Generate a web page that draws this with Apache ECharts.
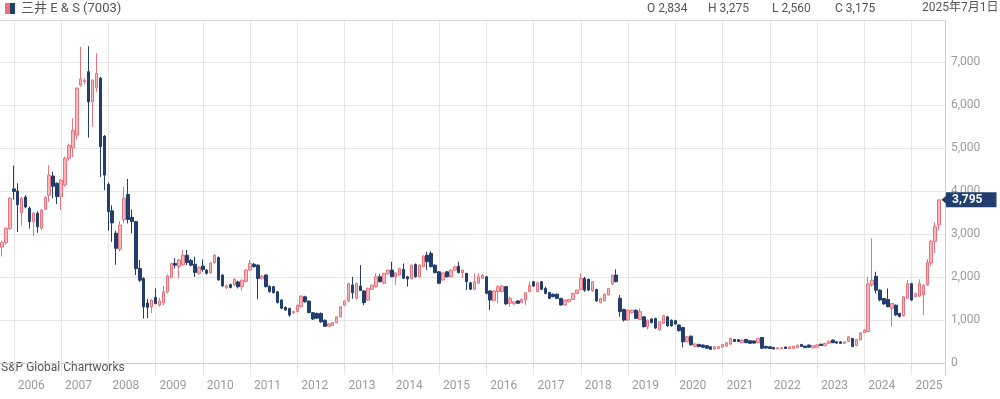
<!DOCTYPE html>
<html>
<head>
<meta charset="utf-8">
<title>三井E&amp;S (7003)</title>
<script src="https://cdn.jsdelivr.net/npm/echarts@6/dist/echarts.min.js"></script>
<style>
html, body { margin: 0; padding: 0; background: #fff; }
#main { width: 1000px; height: 399px; }
</style>
</head>
<body>
<div id="main"></div>
<script>
// 月足 2005年10月 〜 2025年8月 (最後のカテゴリ 2025年9月 は空き)
var firstYear = 2005, firstMonth = 10, monthCount = 240;

var openPrice = [
    2700, 2800, 3130,
    4050, 4000, 3490, 3860, 3600, 3290, 3480, 3140, 3580, 3900, 4350, 4180,
    3870, 4140, 4760, 5000, 5300, 6460, 6540, 6770, 6070, 6390, 6620, 5270,
    4150, 3540, 3020, 2650, 3340, 3920, 3390, 3290, 2200, 1970, 1400, 1310,
    1530, 1350, 1400, 1660, 2000, 2320, 2250, 2290, 2510, 2390, 2300, 2090,
    2260, 2165, 2100, 2335, 2460, 2050, 1760, 1830, 1820, 1890, 1780, 1900,
    2165, 2300, 2280, 1975, 2050, 1790, 1780, 1660, 1470, 1300, 1275, 1175,
    1200, 1320, 1545, 1445, 1175, 1160, 1160, 1000, 860, 880, 945, 1080,
    1350, 1450, 1820, 1510, 1795, 1680, 1470, 1720, 1780, 2010, 1860, 2075,
    2165, 2010, 2050, 2180, 2010, 1970, 2295, 2010, 2245, 2510, 2550, 2280,
    2125, 1935, 2125, 2010, 2165, 2255, 2105, 2090, 1870, 1720, 1860, 1975,
    2010, 1680, 1455, 1665, 1665, 1780, 1395, 1380, 1450, 1410, 1470, 1665,
    1895, 1665, 1895, 1740, 1645, 1605, 1605, 1510, 1355, 1430, 1485, 1625,
    1720, 1970, 1950, 1690, 1715, 1410, 1455, 1590, 1840, 2050, 1510, 1250,
    1005, 1175, 1235, 1020, 1080, 850, 1030, 1040, 775, 930, 1080, 1000,
    990, 890, 830, 505, 630, 390, 440, 425, 410, 385, 330, 345,
    375, 400, 445, 555, 550, 480, 555, 525, 520, 480, 600, 395,
    385, 370, 335, 340, 380, 340, 345, 365, 440, 400, 425, 360,
    375, 445, 405, 465, 540, 500, 500, 465, 505, 580, 410, 545,
    710, 740, 1820, 2020, 1700, 1505, 1485, 1280, 1350, 1160, 1100, 1510,
    1850, 1550, 1560, 1590, 1820, 2330, 2834, 3210
];
var highPrice = [
    2850, 3160, 3860,
    4590, 4180, 3860, 3900, 3640, 3500, 3530, 3580, 3880, 4600, 4450, 4200,
    4280, 4800, 5100, 5690, 6400, 7350, 6620, 7360, 6600, 7200, 6650, 5300,
    4200, 3670, 3080, 3300, 4100, 4280, 3570, 3300, 2400, 2000, 1500, 1500,
    1740, 1520, 1800, 2060, 2340, 2440, 2420, 2630, 2630, 2420, 2475, 2250,
    2410, 2190, 2350, 2540, 2480, 2070, 1830, 1850, 1970, 1920, 1950, 2180,
    2400, 2330, 2300, 2050, 2070, 1810, 1800, 1680, 1490, 1320, 1290, 1220,
    1370, 1580, 1570, 1460, 1190, 1180, 1180, 1020, 935, 960, 1090, 1320,
    1470, 1870, 2010, 1870, 2280, 1700, 1760, 1830, 2090, 2070, 2100, 2180,
    2360, 2120, 2220, 2320, 2030, 2300, 2320, 2300, 2510, 2590, 2600, 2300,
    2140, 2110, 2140, 2180, 2260, 2360, 2180, 2100, 1890, 2090, 2090, 2080,
    2030, 1700, 1700, 1820, 1810, 1800, 1546, 1440, 1470, 1500, 1650, 1895,
    1910, 1895, 1910, 1780, 1660, 1625, 1620, 1520, 1480, 1495, 1635, 1710,
    2090, 2010, 1970, 1910, 1730, 1520, 1620, 1750, 2060, 2180, 1585, 1270,
    1250, 1250, 1250, 1275, 1100, 1020, 1045, 1060, 980, 1120, 1100, 1020,
    1010, 910, 850, 630, 650, 470, 455, 440, 420, 395, 395, 400,
    450, 490, 600, 570, 565, 550, 570, 535, 535, 590, 610, 410,
    395, 380, 370, 370, 390, 390, 405, 435, 450, 410, 435, 415,
    440, 455, 470, 525, 555, 515, 510, 510, 640, 590, 565, 720,
    790, 2010, 2900, 2126, 1720, 1520, 1740, 1400, 1370, 1175, 1560, 1933,
    1870, 1640, 1949, 1840, 2420, 2870, 3275, 3800
];
var lowPrice = [
    2480, 2750, 3100,
    3800, 3050, 3200, 3600, 3130, 2950, 3030, 3100, 3560, 3750, 3830, 3700,
    3560, 4100, 4700, 4790, 5200, 6420, 6480, 5240, 5490, 6300, 4330, 4020,
    3080, 2820, 2290, 2600, 3250, 3250, 3020, 2050, 1890, 1040, 1050, 1170,
    1370, 1320, 1350, 1620, 1970, 2200, 1970, 2260, 2280, 2250, 2010, 2060,
    2130, 2060, 2080, 2310, 1920, 1770, 1720, 1740, 1800, 1740, 1690, 1880,
    2150, 2220, 1490, 1950, 1760, 1640, 1620, 1390, 1260, 1220, 1080, 1150,
    1180, 1300, 1410, 1160, 1010, 1030, 940, 850, 845, 870, 930, 1070,
    1340, 1420, 1500, 1480, 1680, 1350, 1450, 1700, 1760, 1880, 1840, 2060,
    2000, 1820, 2030, 1960, 1780, 1950, 1990, 1990, 2230, 2165, 2230, 2090,
    1840, 1920, 1990, 2000, 2150, 2090, 1975, 1700, 1700, 1700, 1840, 1960,
    1600, 1240, 1440, 1400, 1650, 1360, 1315, 1360, 1380, 1400, 1355, 1650,
    1780, 1650, 1700, 1600, 1490, 1530, 1490, 1340, 1340, 1420, 1470, 1610,
    1700, 1660, 1690, 1660, 1430, 1390, 1440, 1575, 1820, 1880, 1085, 970,
    990, 1160, 1030, 1000, 835, 790, 930, 800, 760, 910, 850, 850,
    900, 740, 370, 480, 410, 380, 375, 360, 340, 315, 320, 335,
    365, 390, 440, 500, 495, 470, 470, 455, 460, 470, 340, 345,
    335, 325, 325, 330, 335, 335, 340, 360, 380, 355, 365, 350,
    365, 405, 400, 455, 470, 460, 455, 455, 495, 380, 400, 535,
    700, 720, 1780, 1624, 1440, 1360, 1300, 850, 1100, 1070, 1090, 1500,
    1450, 1530, 1540, 1120, 1800, 2260, 2560, 3090
];
var closePrice = [
    2800, 3130, 3830,
    3990, 3680, 3830, 3630, 3290, 3490, 3170, 3560, 3860, 4370, 4110, 3870,
    4250, 4760, 5060, 5410, 6390, 6600, 6560, 6070, 6570, 6730, 5030, 4370,
    3520, 3260, 2670, 3210, 3830, 3340, 3290, 2200, 1930, 1310, 1300, 1470,
    1390, 1450, 1660, 2030, 2320, 2280, 2400, 2510, 2340, 2280, 2110, 2230,
    2180, 2090, 2330, 2510, 1935, 1800, 1800, 1760, 1950, 1780, 1930, 2165,
    2320, 2245, 1970, 2025, 1780, 1665, 1640, 1410, 1280, 1240, 1120, 1205,
    1350, 1560, 1430, 1180, 1030, 1050, 965, 860, 920, 950, 1080, 1315,
    1450, 1850, 1640, 1856, 1690, 1410, 1740, 1815, 2010, 1895, 2090, 2165,
    2010, 2100, 2200, 1975, 1960, 2280, 2010, 2280, 2490, 2360, 2245, 2105,
    1860, 2100, 2010, 2165, 2240, 2105, 2165, 1895, 1720, 1895, 2010, 2045,
    1625, 1470, 1680, 1780, 1795, 1380, 1505, 1430, 1395, 1485, 1640, 1815,
    1795, 1870, 1720, 1625, 1510, 1550, 1510, 1355, 1470, 1485, 1625, 1700,
    1970, 1700, 1700, 1895, 1450, 1505, 1605, 1740, 2050, 1895, 1200, 1005,
    1235, 1235, 1045, 1200, 850, 1005, 945, 820, 965, 1105, 870, 870,
    915, 760, 500, 615, 430, 450, 390, 375, 350, 325, 385, 390,
    440, 480, 580, 510, 505, 540, 480, 465, 470, 580, 350, 355,
    345, 335, 360, 362, 345, 385, 400, 425, 390, 365, 375, 410,
    430, 415, 465, 515, 480, 470, 465, 500, 615, 390, 555, 710,
    770, 1850, 1930, 1700, 1470, 1380, 1315, 1390, 1125, 1085, 1545, 1850,
    1470, 1620, 1856, 1810, 2340, 2834, 3175, 3795
];
var yTicks = [0, 1000, 2000, 3000, 4000, 5000, 6000, 7000];

// ヘッダー (クロスヘア位置の四本値)
var headerTitle = '三井 E & S (7003)';
var headerOHLC = ['O 2,834', 'H 3,275', 'L 2,560', 'C 3,175'];
var headerDate = '2025年7月1日';
var sourceText = 'S&P Global Chartworks';

var upFill = '#f5b7bb', upLine = '#e9737d', downColor = '#213e6e';

var months = [];
for (var i = 0; i < monthCount; i++) {
    var t = firstMonth - 1 + i;
    var mm = t % 12 + 1;
    months.push((firstYear + Math.floor(t / 12)) + '-' + (mm < 10 ? '0' + mm : mm));
}
var candles = [];
for (var j = 0; j < openPrice.length; j++) {
    candles.push([openPrice[j], closePrice[j], lowPrice[j], highPrice[j]]);
}
var lastClose = closePrice[closePrice.length - 1];

function isJanuary(index, value) {
    return value.slice(5) === '01';
}
function fmt(v) {
    return Number(v).toLocaleString('en-US');
}

var myChart = echarts.init(document.getElementById('main'));
var font = 'Roboto, "Noto Sans CJK JP", sans-serif';
var ohlcX = [647, 708, 772, 835];
var graphics = [
    { type: 'rect', left: 5, top: 3, shape: { width: 5, height: 11 }, style: { fill: upLine } },
    { type: 'rect', left: 10, top: 3, shape: { width: 5, height: 11 }, style: { fill: downColor } },
    { type: 'text', left: 21, top: 2, style: { text: headerTitle, fill: '#555', font: '13px ' + font } },
    { type: 'text', left: 922, top: 2, style: { text: headerDate, fill: '#555', font: '12px ' + font } },
    { type: 'text', left: 1, top: 362, style: { text: sourceText, fill: '#555', font: '12px ' + font } }
];
headerOHLC.forEach(function (s, k) {
    graphics.push({ type: 'text', left: ohlcX[k], top: 3, style: { text: s, fill: '#555', font: '12px ' + font } });
});

var option = {
    animation: false,
    backgroundColor: '#fff',
    textStyle: { fontFamily: font },
    grid: { left: 0, right: 55, top: 20, bottom: 24 },
    xAxis: [{
        type: 'category',
        data: months,
        boundaryGap: true,
        axisLine: { lineStyle: { color: '#cfcfcf' } },
        axisTick: { show: true, interval: isJanuary, alignWithLabel: true, length: 5, lineStyle: { color: '#dadada' } },
        axisLabel: {
            interval: isJanuary,
            formatter: function (v) { return v.slice(0, 4); },
            color: '#9b9b9b', fontSize: 12, align: 'left', margin: 5, padding: [0, 0, 0, 4]
        },
        splitLine: { show: true, interval: isJanuary, alignWithLabel: true, lineStyle: { color: '#e6e6e6' } }
    }, {
        type: 'category',
        data: months,
        position: 'top',
        axisLine: { lineStyle: { color: '#d6d6d6' } },
        axisTick: { show: false },
        axisLabel: { show: false },
        splitLine: { show: false }
    }],
    yAxis: {
        type: 'value',
        position: 'right',
        min: -270,
        max: 7970,
        axisLine: { show: true, lineStyle: { color: '#cfcfcf' } },
        axisTick: { show: false, customValues: yTicks },
        axisLabel: { customValues: yTicks, formatter: fmt, color: '#9b9b9b', fontSize: 12, margin: 6 },
        splitLine: { show: true, lineStyle: { color: '#e6e6e6' } }
    },
    series: [{
        type: 'candlestick',
        data: candles,
        barWidth: 3,
        itemStyle: {
            color: upFill,
            color0: downColor,
            borderColor: upLine,
            borderColor0: downColor,
            borderWidth: 1
        },
        markLine: {
            silent: true,
            symbol: ['none', 'path://M0,0 L10,0 L5,10 Z'],
            symbolSize: [12, 7],
            lineStyle: { color: downColor, width: 0, opacity: 1 },
            label: {
                position: 'end',
                formatter: fmt(lastClose),
                color: '#fff',
                backgroundColor: downColor,
                padding: [2, 14, 1, 6],
                fontSize: 12,
                fontWeight: 'bold',
                distance: 1
            },
            data: [{ yAxis: lastClose }]
        }
    }],
    graphic: graphics
};
myChart.setOption(option);
window.addEventListener('resize', function () {
    myChart.resize();
});
</script>
</body>
</html>
